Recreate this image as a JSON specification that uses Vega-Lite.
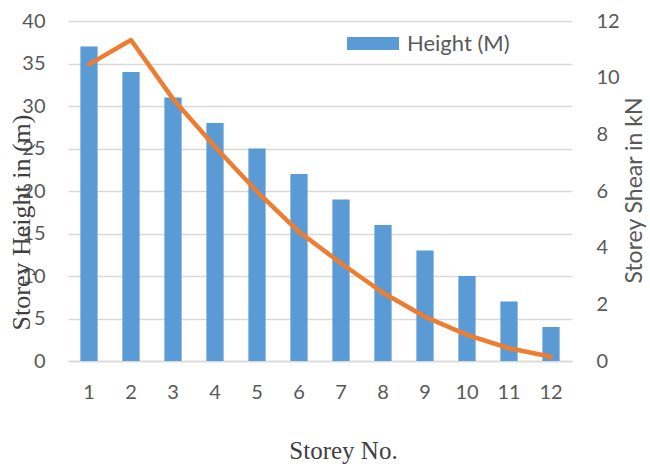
{
  "$schema": "https://vega.github.io/schema/vega-lite/v6.json",
  "width": 504,
  "height": 340,
  "autosize": {"type": "none"},
  "padding": {"left": 68, "top": 21, "right": 78, "bottom": 103},
  "background": "white",
  "config": {
    "view": {"stroke": null},
    "font": "Lato"
  },
  "data": {
    "values": [
      {"storey": 1, "height": 37, "shear": 10.47},
      {"storey": 2, "height": 34, "shear": 11.33},
      {"storey": 3, "height": 31, "shear": 9.25},
      {"storey": 4, "height": 28, "shear": 7.56},
      {"storey": 5, "height": 25, "shear": 5.98},
      {"storey": 6, "height": 22, "shear": 4.56},
      {"storey": 7, "height": 19, "shear": 3.45},
      {"storey": 8, "height": 16, "shear": 2.41},
      {"storey": 9, "height": 13, "shear": 1.56},
      {"storey": 10, "height": 10, "shear": 0.92},
      {"storey": 11, "height": 7, "shear": 0.45},
      {"storey": 12, "height": 4, "shear": 0.15}
    ]
  },
  "encoding": {
    "x": {
      "field": "storey",
      "type": "ordinal",
      "scale": {"paddingInner": 0.59, "paddingOuter": 0.295},
      "axis": {
        "title": "Storey No.",
        "titleFont": "Liberation Serif",
        "titleFontSize": 25,
        "titleFontWeight": "normal",
        "titleColor": "#404040",
        "titleX": 275,
        "titleY": 89,
        "titleAlign": "center",
        "titleBaseline": "middle",
        "labelAngle": 0,
        "labelFontSize": 20,
        "labelColor": "#595959",
        "labelPadding": 21,
        "ticks": false,
        "domain": true,
        "domainColor": "#d9d9d9",
        "domainWidth": 1.5,
        "grid": false
      }
    }
  },
  "layer": [
    {
      "mark": {"type": "bar", "color": "#5b9bd5"},
      "encoding": {
        "y": {
          "field": "height",
          "type": "quantitative",
          "scale": {"domain": [0, 40]},
          "axis": {
            "title": "Storey Height in (m)",
            "titleFont": "Liberation Serif",
            "titleFontSize": 26,
            "titleFontWeight": "normal",
            "titleColor": "#404040",
            "titleAngle": 270,
            "titleX": -47,
            "titleY": 201,
            "titleAlign": "center",
            "titleBaseline": "middle",
            "values": [0, 5, 10, 15, 20, 25, 30, 35, 40],
            "labelFontSize": 20,
            "labelColor": "#595959",
            "labelPadding": 23,
            "ticks": false,
            "domain": false,
            "grid": true,
            "gridColor": "#d9d9d9",
            "gridWidth": 1.5
          }
        },
        "color": {
          "datum": "Height (M)",
          "scale": {"range": ["#5b9bd5"]},
          "legend": {
            "title": null,
            "orient": "none",
            "legendX": 279,
            "legendY": -3.5,
            "symbolType": "M-1,-0.25H1V0.25H-1Z",
            "symbolSize": 2704,
            "symbolStrokeWidth": 0,
            "symbolOpacity": 1,
            "labelFontSize": 22,
            "labelColor": "#595959",
            "labelOffset": 8
          }
        }
      }
    },
    {
      "mark": {"type": "line", "color": "#ed7d31", "strokeWidth": 4.5, "interpolate": "linear", "strokeCap": "round", "strokeJoin": "round"},
      "encoding": {
        "y": {
          "field": "shear",
          "type": "quantitative",
          "scale": {"domain": [0, 12]},
          "axis": {
            "orient": "right",
            "title": "Storey Shear in kN",
            "titleFont": "Lato",
            "titleFontSize": 23,
            "titleFontWeight": "normal",
            "titleColor": "#595959",
            "titleAngle": 270,
            "titleX": 62,
            "titleY": 169,
            "titleAlign": "center",
            "titleBaseline": "middle",
            "values": [0, 2, 4, 6, 8, 10, 12],
            "labelFontSize": 20,
            "labelColor": "#595959",
            "labelPadding": 24,
            "ticks": false,
            "domain": false,
            "grid": false
          }
        }
      }
    }
  ],
  "resolve": {"scale": {"y": "independent"}}
}
